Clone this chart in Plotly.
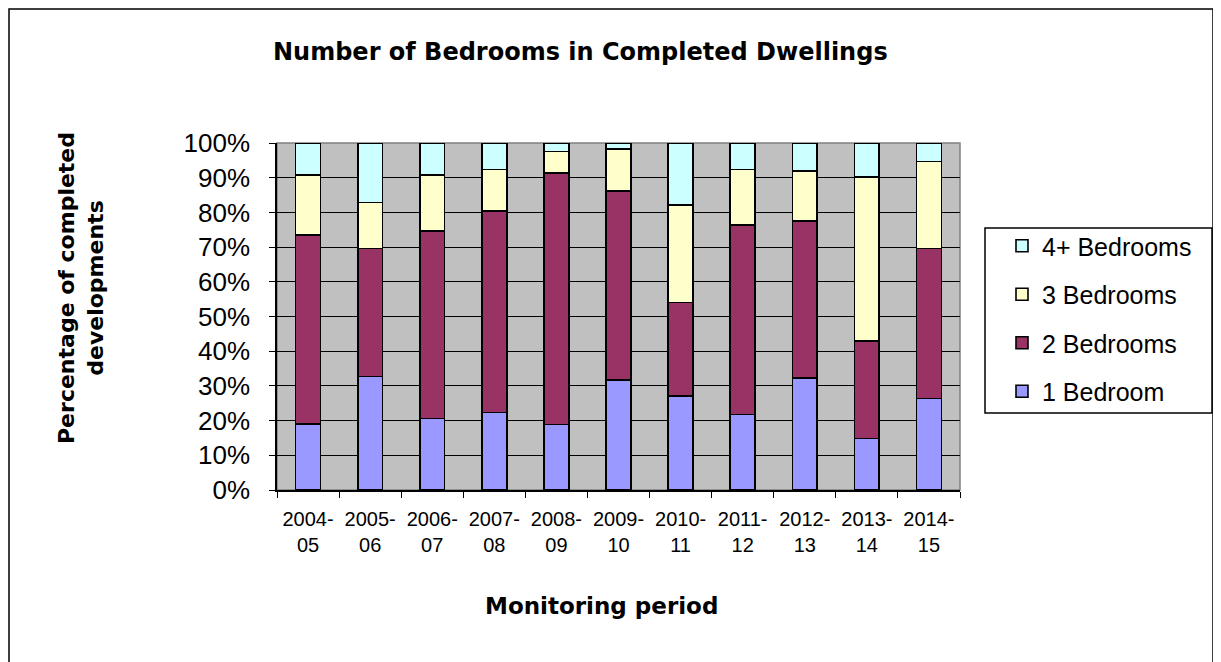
import plotly.graph_objects as go

periods = ["2004-<br>05", "2005-<br>06", "2006-<br>07", "2007-<br>08", "2008-<br>09",
           "2009-<br>10", "2010-<br>11", "2011-<br>12", "2012-<br>13", "2013-<br>14", "2014-<br>15"]
one_bed = [19.0, 32.7, 20.6, 22.3, 18.9, 31.7, 27.1, 21.8, 32.2, 14.9, 26.4]
two_bed = [54.5, 36.9, 54.1, 58.1, 72.5, 54.5, 26.9, 54.6, 45.4, 28.1, 43.2]
three_bed = [17.3, 13.2, 16.1, 12.0, 6.2, 12.1, 28.1, 16.0, 14.3, 47.2, 25.1]
four_bed = [9.2, 17.2, 9.2, 7.6, 2.4, 1.7, 17.9, 7.6, 8.1, 9.8, 5.3]

series = [
    ("1 Bedroom", one_bed, "#9999FF", 4),
    ("2 Bedrooms", two_bed, "#993366", 3),
    ("3 Bedrooms", three_bed, "#FFFFCC", 2),
    ("4+ Bedrooms", four_bed, "#CCFFFF", 1),
]

W, H = 1221, 662
OFF = 8  # page body margin
L, R, T, B = 277, 960, 143, 490  # plot area in page pixels
FONT = "Liberation Sans, Arial, sans-serif"
BOLD_FONT = "DejaVu Sans, Liberation Sans, sans-serif"


def px_x(p):
    return (p - L) / (R - L)


def px_y(p):
    return (B - p) / (B - T)


fig = go.Figure()
for name, vals, col, rank in series:
    fig.add_trace(go.Bar(
        x=periods, y=vals, name=name, legendgroup=name, legendrank=rank,
        marker=dict(color=col, line=dict(color="black", width=1.6)),
    ))

fig.update_layout(
    width=W - OFF, height=H - OFF,
    margin=dict(l=L - OFF, r=W - R, t=T - OFF, b=H - B, pad=0),
    barmode="stack", bargap=0.6,
    paper_bgcolor="white", plot_bgcolor="#C0C0C0",
    font=dict(family=FONT, color="black", size=20),
    showlegend=True,
    legend=dict(
        x=px_x(1002), y=px_y(223), xanchor="left", yanchor="top",
        traceorder="grouped", tracegroupgap=13,
        font=dict(size=25, family=FONT),
        bgcolor="rgba(0,0,0,0)", borderwidth=0,
    ),
    xaxis=dict(
        type="category", tickson="boundaries", ticks="outside", ticklen=6,
        tickcolor="black", showline=True, linecolor="black", linewidth=1.5,
        showgrid=False, tickfont=dict(size=20), ticklabelstandoff=10,
    ),
    yaxis=dict(
        range=[0, 100], dtick=10, ticksuffix="%", ticks="outside", ticklen=6,
        tickcolor="black", showline=True, linecolor="black", linewidth=1.5,
        showgrid=True, gridcolor="black", gridwidth=1,
        tickfont=dict(size=26), zeroline=False, ticklabelstandoff=14,
    ),
    shapes=[
        dict(type="rect", xref="paper", yref="paper", x0=0, x1=1, y0=0, y1=1,
             line=dict(color="#808080", width=1.5), layer="below"),
        dict(type="rect", xref="paper", yref="paper",
             x0=px_x(9), x1=px_x(1213), y0=px_y(9), y1=px_y(700),
             line=dict(color="black", width=1.5)),
        dict(type="rect", xref="paper", yref="paper",
             x0=px_x(985), x1=px_x(1212), y0=px_y(228), y1=px_y(413),
             line=dict(color="black", width=1.5)),
    ],
    annotations=[
        dict(text="<b>Number of Bedrooms in Completed Dwellings</b>",
             xref="paper", yref="paper", x=px_x(580), y=px_y(52),
             showarrow=False, font=dict(size=24, family=BOLD_FONT),
             xanchor="center", yanchor="middle"),
        dict(text="<b>Monitoring period</b>",
             xref="paper", yref="paper", x=px_x(601), y=px_y(606),
             showarrow=False, font=dict(size=23, family=BOLD_FONT),
             xanchor="center", yanchor="middle"),
        dict(text="<b>Percentage of completed<br>developments</b>",
             xref="paper", yref="paper", x=px_x(81), y=px_y(288), textangle=-90,
             showarrow=False, font=dict(size=22, family=BOLD_FONT),
             xanchor="center", yanchor="middle"),
    ],
)

fig.write_html("out.html")
